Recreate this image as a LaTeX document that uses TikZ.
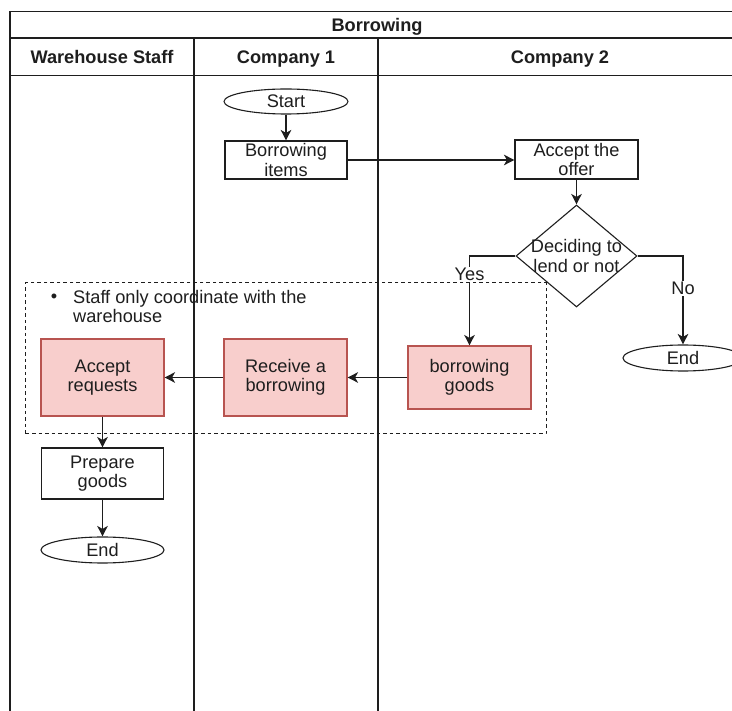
\documentclass[tikz,border=0pt]{standalone}
\usepackage{fontspec}
\setmainfont{Liberation Sans}
\usetikzlibrary{shapes.geometric,arrows.meta}
\definecolor{pinkfill}{HTML}{F8CECC}
\definecolor{pinkline}{HTML}{B85450}
\definecolor{ink}{HTML}{1E1E1E}
\begin{document}
\begin{tikzpicture}[x=1pt,y=-1pt,
  txt/.style={font=\fontsize{18.2}{19.5}\selectfont, text=ink, align=center},
  box/.style={txt, draw=ink, line width=1.1pt, rectangle, inner sep=0pt, fill=white},
  pinkbox/.style={box, draw=pinkline, fill=pinkfill},
  term/.style={txt, draw=ink, line width=1.1pt, ellipse, inner sep=0pt, fill=white},
  decision/.style={draw=ink, line width=1.1pt, diamond, inner sep=0pt, fill=white},
  flow/.style={draw=ink, line width=1.3pt, -{Stealth[length=10.5pt,width=10.5pt,inset=3pt]}},
  lane/.style={draw=ink, line width=1.3pt},
  hdr/.style={font=\bfseries\fontsize{18.2}{19.5}\selectfont, text=ink, text height=13pt, text depth=0pt, inner sep=0pt},
  lbl/.style={txt, fill=white, inner sep=1pt},
  groupbox/.style={draw=ink, line width=1pt, dash pattern=on 3.5pt off 3pt, inner sep=0pt}]
\useasboundingbox (0,0) rectangle (732,711);
\clip (0,0) rectangle (732,711);
\fill[white] (0,0) rectangle (732,711);
% pool and lanes
\draw[lane] (744,11.5) -- (10,11.5) -- (10,730);
\draw[lane] (10,38) -- (744,38);
\draw[lane] (10,75.5) -- (744,75.5);
\draw[lane] (194,38) -- (194,730);
\draw[lane] (378,38) -- (378,730);
\draw[lane] (743,11.5) -- (743,730);
\node[hdr] (title) at (377,24.75) {Borrowing};
\node[hdr] (h1) at (102,56.7) {Warehouse Staff};
\node[hdr] (h2) at (286,56.7) {Company 1};
\node[hdr] (h3) at (560,56.7) {Company 2};
% dashed group
\node[groupbox, minimum width=520.3pt, minimum height=151pt] (group) at (285.85,358.5) {};
\node[txt, anchor=base] (bullet) at (54,303) {•};
\node[txt, anchor=west, align=left, inner sep=0pt] (note) at (73,306.5) {Staff only coordinate with the\\warehouse};
% nodes
\node[term, minimum width=124pt, minimum height=25pt] (start) at (286,101.5) {Start};
\node[box, minimum width=122pt, minimum height=38pt] (items) at (286,160) {Borrowing\\items};
\node[box, minimum width=123pt, minimum height=39pt] (offer) at (576.5,159.5) {Accept the\\offer};
\node[decision, minimum width=121pt, minimum height=102pt,
      label={[txt]center:Deciding to\\lend or not}] (decide) at (576.5,256) {};
\node[pinkbox, minimum width=123pt, minimum height=63pt] (goods) at (469.5,377.5) {borrowing\\goods};
\node[pinkbox, minimum width=123pt, minimum height=77pt] (receive) at (285.5,377.5) {Receive a\\borrowing};
\node[pinkbox, minimum width=123pt, minimum height=77pt] (accept) at (102.5,377.5) {Accept\\requests};
\node[box, minimum width=122pt, minimum height=51pt] (prepare) at (102.5,473.5) {Prepare\\goods};
\node[term, minimum width=123pt, minimum height=26pt] (end1) at (102.5,550) {End};
\node[term, minimum width=120pt, minimum height=26pt] (end2) at (683,358) {End};
% connectors
\draw[flow] (start) -- (items);
\draw[flow] (items.east) -- (items.east -| offer.west);
\draw[flow] (offer) -- (decide);
\draw[flow] (decide.west) -| node[lbl, pos=0.605] (yes) {Yes} (goods.north);
\draw[flow] (decide.east) -| node[lbl, pos=0.685] (no) {No} (end2.north);
\draw[flow] (goods) -- (receive);
\draw[flow] (receive) -- (accept);
\draw[flow] (accept) -- (prepare);
\draw[flow] (prepare) -- (end1);
\end{tikzpicture}
\end{document}
